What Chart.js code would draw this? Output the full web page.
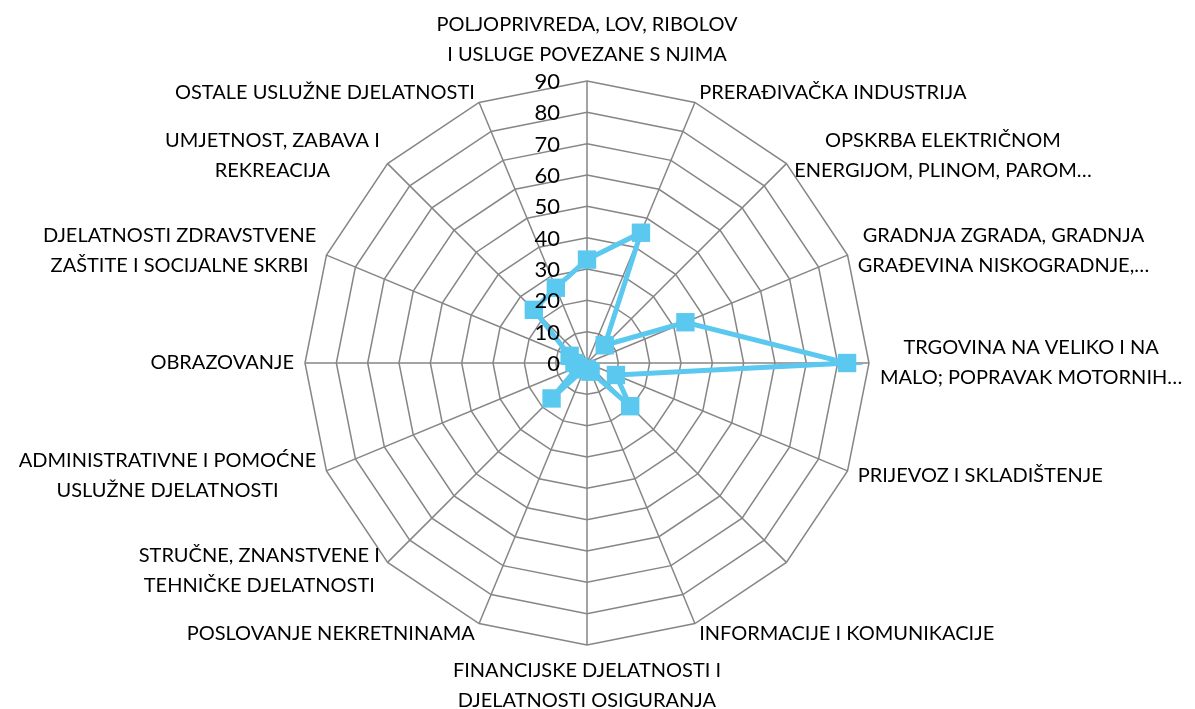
<!DOCTYPE html>
<html>
<head>
<meta charset="utf-8">
<script src="https://cdn.jsdelivr.net/npm/chart.js@4/dist/chart.umd.min.js"></script>
<style>
  html, body { margin: 0; padding: 0; background: #fff; }
  #wrap { width: 1195px; height: 709px; }
</style>
</head>
<body>
<div id="wrap"><canvas id="radarChart"></canvas></div>
<script>
// categories (index 6 has no label in the original)
var categories = [
    ["POLJOPRIVREDA, LOV, RIBOLOV", "I USLUGE POVEZANE S NJIMA"],
    "PRERAĐIVAČKA INDUSTRIJA",
    ["OPSKRBA ELEKTRIČNOM", "ENERGIJOM, PLINOM, PAROM…"],
    ["GRADNJA ZGRADA, GRADNJA", "GRAĐEVINA NISKOGRADNJE,…"],
    ["TRGOVINA NA VELIKO I NA", "MALO; POPRAVAK MOTORNIH…"],
    "PRIJEVOZ I SKLADIŠTENJE",
    "",
    "INFORMACIJE I KOMUNIKACIJE",
    ["FINANCIJSKE DJELATNOSTI I", "DJELATNOSTI OSIGURANJA"],
    "POSLOVANJE NEKRETNINAMA",
    ["STRUČNE, ZNANSTVENE I", "TEHNIČKE DJELATNOSTI"],
    ["ADMINISTRATIVNE I POMOĆNE", "USLUŽNE DJELATNOSTI"],
    "OBRAZOVANJE",
    ["DJELATNOSTI ZDRAVSTVENE", "ZAŠTITE I SOCIJALNE SKRBI"],
    ["UMJETNOST, ZABAVA I", "REKREACIJA"],
    "OSTALE USLUŽNE DJELATNOSTI"
];

// values
var values = [33, 45, 8, 34, 83, 10, 19.5, 3, 2, 2, 16, 3, 4, 6, 24, 26];

// axis
var axisMin = 0;
var axisMax = 90;
var axisStep = 10;

var labelFont = '20px Lato, "Open Sans", sans-serif';
var labelLineHeight = 30;

// Excel style labels: ticks left of the vertical axis,
// category labels centred on their spoke, lines centred in the block
var labelsPlugin = {
    id: 'excelLabels',
    afterDraw: function(chart) {
        var scale = chart.scales.r;
        var ctx = chart.ctx;
        ctx.save();
        ctx.fillStyle = '#000';

        // tick labels
        ctx.font = '22px Lato, "Open Sans", sans-serif';
        ctx.textAlign = 'right';
        ctx.textBaseline = 'middle';
        scale.ticks.forEach(function(t) {
            var d = scale.getDistanceFromCenterForValue(t.value);
            ctx.fillText(String(t.value), scale.xCenter - 27, scale.yCenter - d + 1);
        });

        // category labels
        ctx.font = labelFont;
        ctx.textAlign = 'center';
        ctx.textBaseline = 'middle';
        var n = categories.length;
        categories.forEach(function(lab, i) {
            var lines = Array.isArray(lab) ? lab : [lab];
            if (!lines[0]) return;
            var pos = scale.getPointPosition(i, scale.drawingArea + 11);
            var w = 0;
            lines.forEach(function(l) { w = Math.max(w, ctx.measureText(l).width); });
            var h = lines.length * labelLineHeight;
            var deg = 360 * i / n;
            var cx, top;
            if (deg === 0) {
                cx = pos.x; top = pos.y - h;
            } else if (deg === 180) {
                cx = pos.x; top = pos.y;
            } else if (deg < 180) {
                cx = pos.x + w / 2; top = pos.y - h / 2;
            } else {
                cx = pos.x - w / 2; top = pos.y - h / 2;
            }
            lines.forEach(function(l, k) {
                ctx.fillText(l, cx, top + labelLineHeight * (k + 0.5));
            });
        });
        ctx.restore();
    }
};

var ctx = document.getElementById('radarChart').getContext('2d');

var radarChart = new Chart(ctx, {
    type: 'radar',
    data: {
        labels: categories,
        datasets: [{
            data: values,
            borderColor: '#5bc8ef',
            backgroundColor: '#5bc8ef',
            borderWidth: 5,
            fill: false,
            pointStyle: 'rect',
            pointRadius: 13,
            pointHoverRadius: 13,
            pointBackgroundColor: '#5bc8ef',
            pointBorderWidth: 0
        }]
    },
    options: {
        responsive: true,
        maintainAspectRatio: false,
        animation: false,
        layout: { padding: { top: 81, bottom: 64, left: 305, right: 326 } },
        plugins: {
            legend: { display: false },
            tooltip: { enabled: false }
        },
        scales: {
            r: {
                min: axisMin,
                max: axisMax,
                beginAtZero: true,
                ticks: { stepSize: axisStep, display: false },
                grid: { color: '#868686', lineWidth: 1.5 },
                angleLines: { color: '#868686', lineWidth: 1.5 },
                pointLabels: { display: false }
            }
        }
    },
    plugins: [labelsPlugin]
});
</script>
</body>
</html>
